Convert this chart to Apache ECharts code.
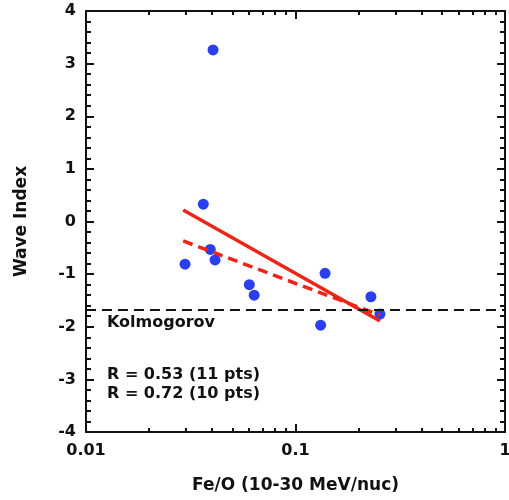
<!DOCTYPE html>
<html><head><meta charset="utf-8">
<script src="https://cdn.jsdelivr.net/npm/echarts@6/dist/echarts.min.js"></script>
<style>html,body{margin:0;padding:0;background:#fff}#c{width:509px;height:500px}</style>
</head><body><div id="c"></div>
<script>
// ---- data ----
const feO       = [0.0404, 0.0363, 0.0392, 0.0413, 0.0297, 0.0602, 0.0635, 0.1384, 0.1318, 0.229, 0.253];
const waveIndex = [3.26,   0.33,  -0.53,  -0.73,  -0.81,  -1.20,  -1.40,  -0.985, -1.97,  -1.43, -1.76];
const fit11X = [0.0291, 0.253];
const fit11Y = [0.22, -1.89];
const fit10X = [0.0291, 0.253];
const fit10Y = [-0.37, -1.78];
const kolmogorovIndex = -5 / 3;
const xMajorTicks = [0.01, 0.1, 1];
const xTickLabels = ['0.01', '0.1', '1'];
const xMinorTicks = [0.02, 0.03, 0.04, 0.05, 0.06, 0.07, 0.08, 0.09, 0.2, 0.3, 0.4, 0.5, 0.6, 0.7, 0.8, 0.9];
const yTickLabels = ['-4', '-3', '-2', '-1', '0', '1', '2', '3', '4'];
const kolmogorovLabel = 'Kolmogorov';
const rLabels = ['R = 0.53 (11 pts)', 'R = 0.72 (10 pts)'];
const xTitle = 'Fe/O (10-30 MeV/nuc)';
const yTitle = 'Wave Index';

// ---- styles ----
const FONT = '"DejaVu Sans", Arial, sans-serif';
const BLACK = '#111';
const RED = '#ee2418';
const BLUE = '#2a40ee';

const pts = feO.map((x, i) => [x, waveIndex[i]]);
const line11 = fit11X.map((x, i) => [x, fit11Y[i]]);
const line10 = fit10X.map((x, i) => [x, fit10Y[i]]);

const axisLineStyle = { show: true, onZero: false, lineStyle: { color: BLACK, width: 2 } };
const labelStyle = { fontFamily: FONT, fontWeight: 'bold', fontSize: 16, color: BLACK };

const chart = echarts.init(document.getElementById('c'), null, { renderer: 'canvas' });
chart.setOption({
  animation: false,
  backgroundColor: '#fff',
  grid: { left: 86, right: 4, top: 11, bottom: 68, containLabel: false, outerBoundsMode: 'none' },
  xAxis: [
    {
      type: 'log', logBase: 10, min: 0.01, max: 1, position: 'bottom',
      axisLine: axisLineStyle,
      axisTick: { show: true, inside: true, length: 8, lineStyle: { color: BLACK, width: 2 } },
      axisLabel: Object.assign({ margin: 11, formatter: v => {
        const i = xMajorTicks.findIndex(t => Math.abs(Math.log10(t) - Math.log10(v)) < 1e-6);
        return i >= 0 ? xTickLabels[i] : '';
      } }, labelStyle),
      splitLine: { show: false }, minorTick: { show: false },
      name: xTitle, nameLocation: 'middle', nameGap: 45,
      nameTextStyle: { fontFamily: FONT, fontWeight: 'bold', fontSize: 17, color: BLACK }
    },
    {
      type: 'log', logBase: 10, min: 0.01, max: 1, position: 'top',
      axisLine: axisLineStyle,
      axisTick: { show: true, inside: true, length: 8, lineStyle: { color: BLACK, width: 2 } },
      axisLabel: { show: false }, splitLine: { show: false }
    },
    {
      type: 'value', min: -2, max: 0, position: 'bottom',
      axisLine: { show: false, onZero: false },
      axisTick: { show: true, inside: true, length: 4, customValues: xMinorTicks.map(Math.log10), lineStyle: { color: BLACK, width: 2 } },
      axisLabel: { show: false }, splitLine: { show: false }
    },
    {
      type: 'value', min: -2, max: 0, position: 'top',
      axisLine: { show: false, onZero: false },
      axisTick: { show: true, inside: true, length: 4, customValues: xMinorTicks.map(Math.log10), lineStyle: { color: BLACK, width: 2 } },
      axisLabel: { show: false }, splitLine: { show: false }
    }
  ],
  yAxis: [
    {
      type: 'value', min: -4, max: 4, interval: 1, position: 'left',
      axisLine: axisLineStyle,
      axisTick: { show: true, inside: true, length: 8, lineStyle: { color: BLACK, width: 2 } },
      minorTick: { show: true, splitNumber: 5, length: 5, lineStyle: { color: BLACK, width: 2 } },
      axisLabel: Object.assign({ margin: 10, formatter: v => yTickLabels[Math.round(v) + 4] }, labelStyle),
      splitLine: { show: false },
      name: yTitle, nameLocation: 'middle', nameGap: 56,
      nameTextStyle: { fontFamily: FONT, fontWeight: 'bold', fontSize: 17, color: BLACK }
    },
    {
      type: 'value', min: -4, max: 4, interval: 1, position: 'right',
      axisLine: axisLineStyle,
      axisTick: { show: true, inside: true, length: 8, lineStyle: { color: BLACK, width: 2 } },
      minorTick: { show: true, splitNumber: 5, length: 5, lineStyle: { color: BLACK, width: 2 } },
      axisLabel: { show: false }, splitLine: { show: false }
    }
  ],
  series: [
    {
      type: 'scatter', xAxisIndex: 0, yAxisIndex: 0, data: pts,
      symbol: 'circle', symbolSize: 11, itemStyle: { color: BLUE, opacity: 1 }, z: 2,
      markLine: {
        silent: true, symbol: 'none', label: { show: false },
        lineStyle: { color: BLACK, width: 2, type: [10, 6] },
        data: [{ yAxis: kolmogorovIndex }]
      }
    },
    {
      type: 'line', xAxisIndex: 0, yAxisIndex: 0, data: line11, showSymbol: false, symbol: 'none',
      lineStyle: { color: RED, width: 3.5 }, z: 3
    },
    {
      type: 'line', xAxisIndex: 0, yAxisIndex: 0, data: line10, showSymbol: false, symbol: 'none',
      lineStyle: { color: RED, width: 3.5, type: [10, 6] }, z: 3
    }
  ],
  graphic: [
    { type: 'text', left: 107, top: 315, style: { text: kolmogorovLabel, font: 'bold 16px ' + FONT, fill: BLACK } },
    { type: 'text', left: 107, top: 367, style: { text: rLabels[0], font: 'bold 16px ' + FONT, fill: BLACK } },
    { type: 'text', left: 107, top: 386, style: { text: rLabels[1], font: 'bold 16px ' + FONT, fill: BLACK } }
  ]
});
</script>
</body></html>
